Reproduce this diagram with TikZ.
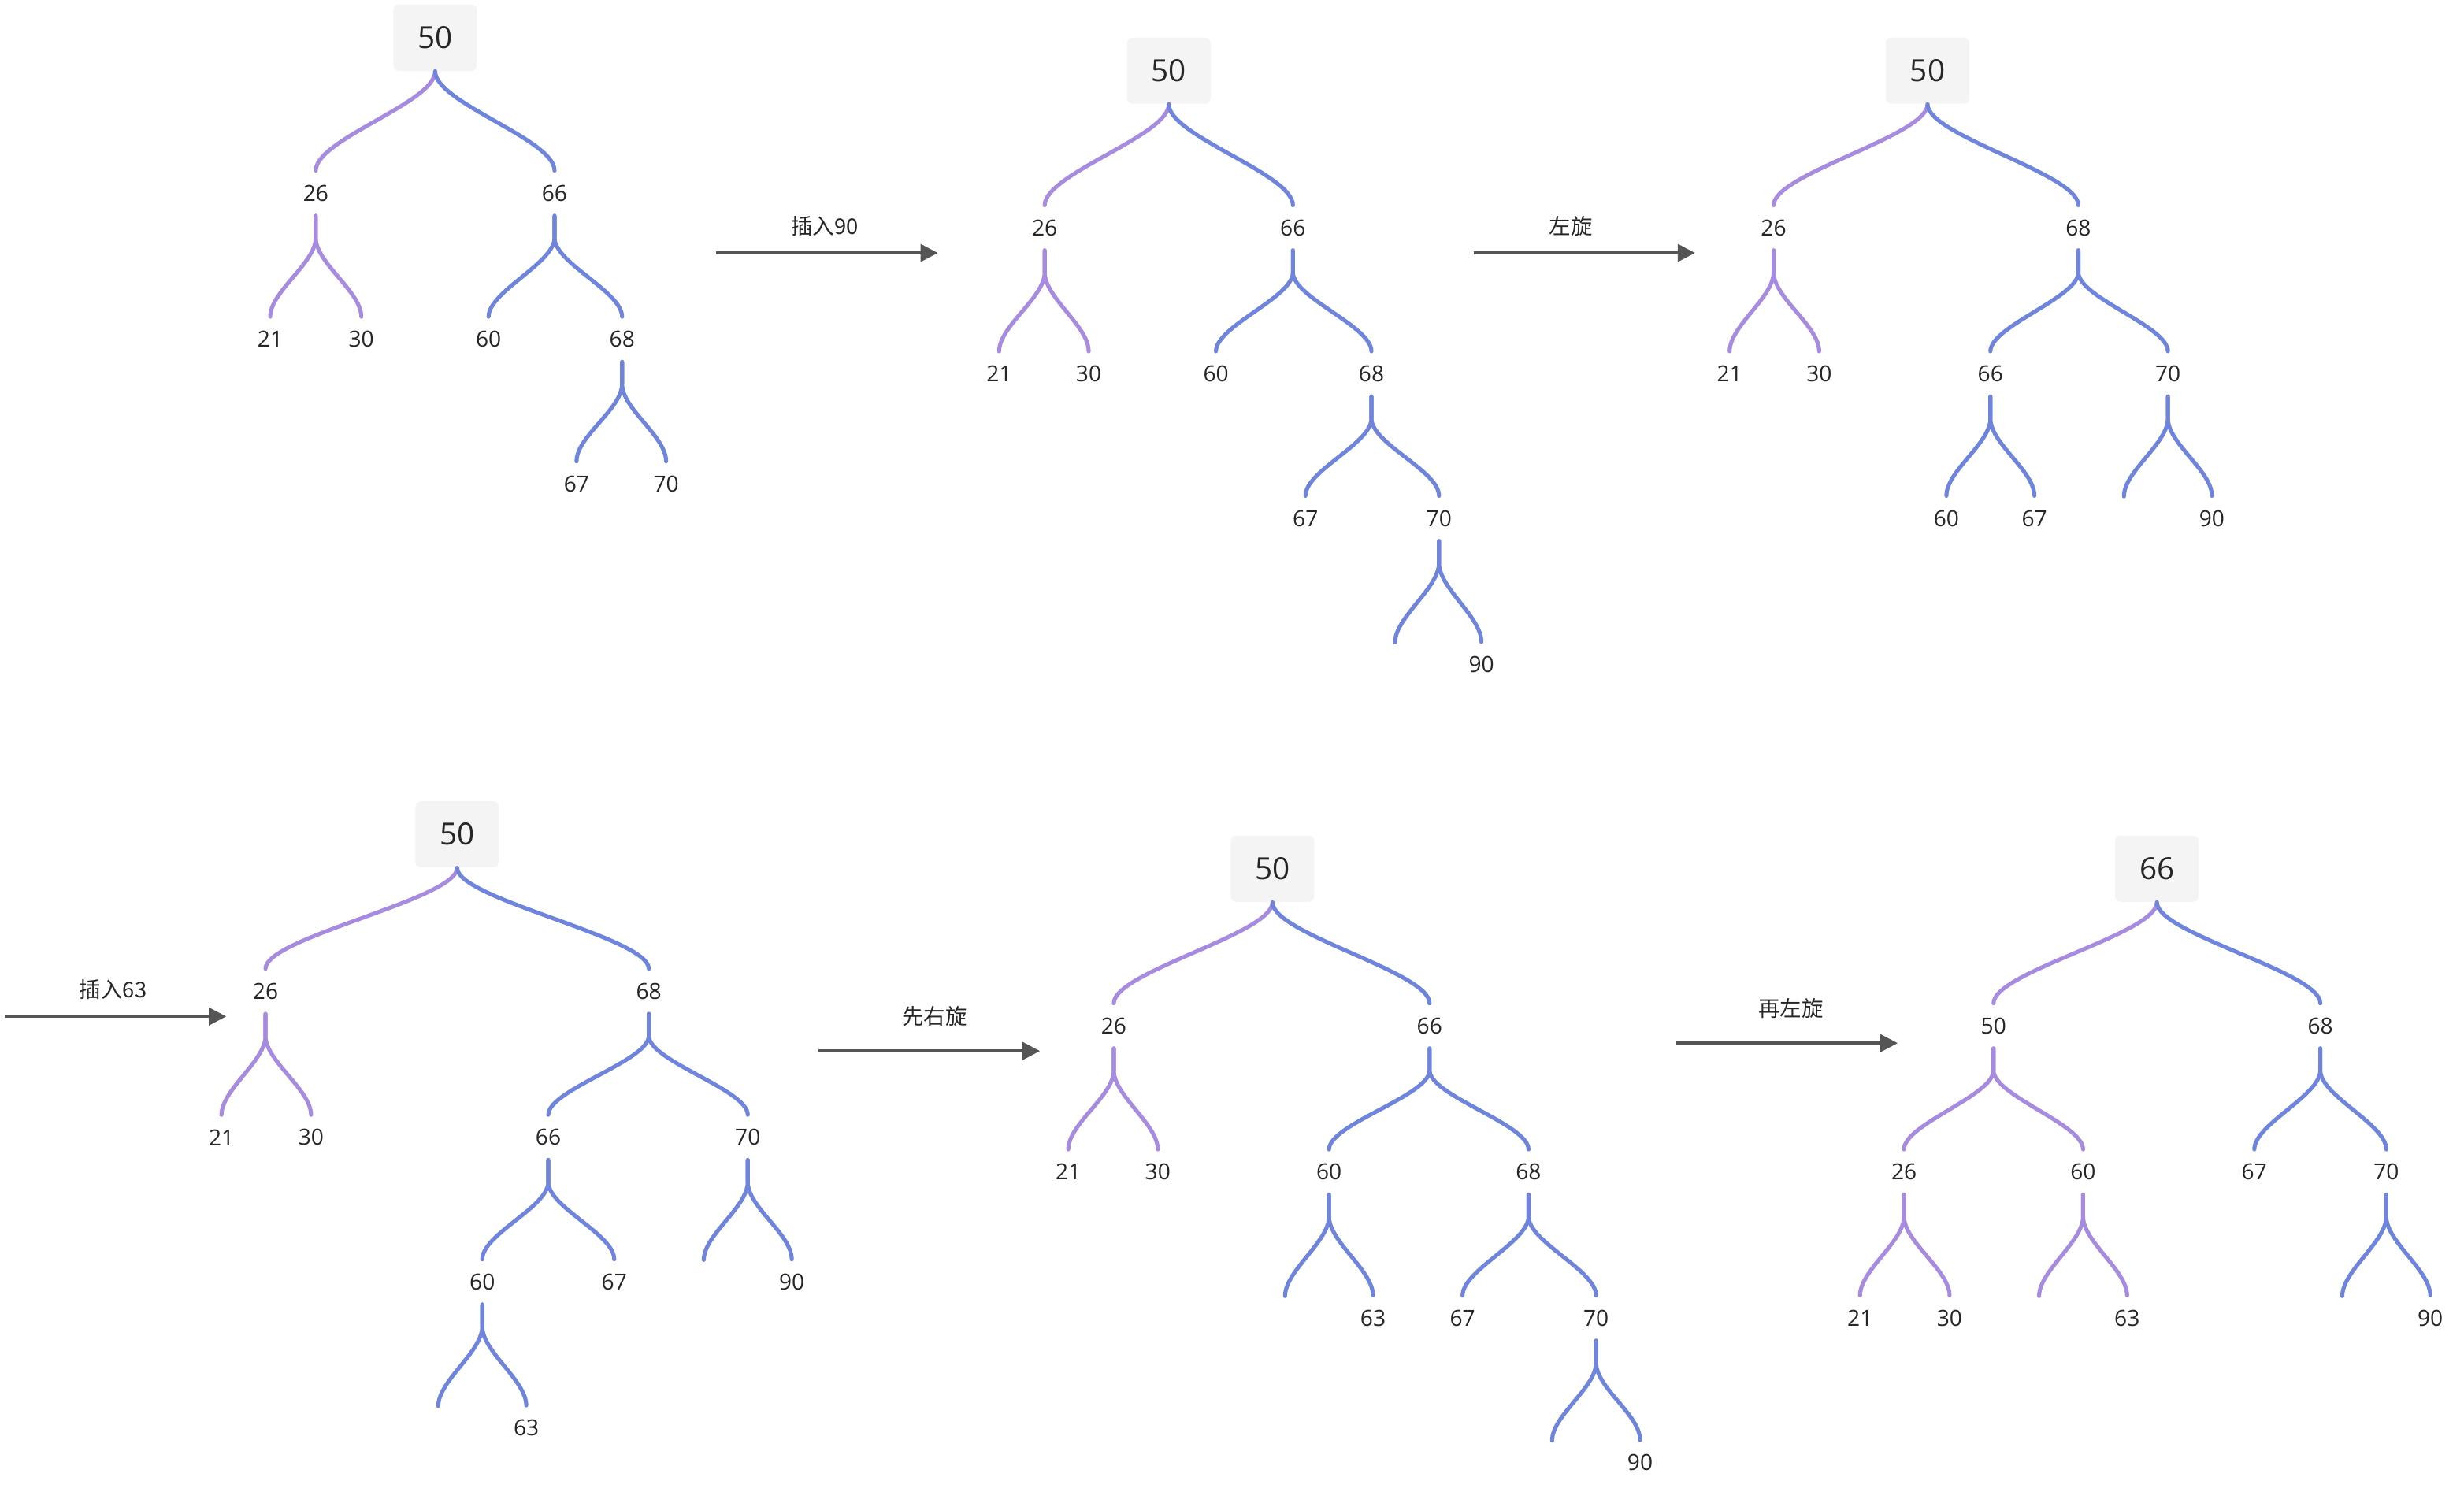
\documentclass[tikz,border=0pt]{standalone}
\usepackage{fontspec}
\setmainfont{Open Sans}
\newfontfamily\cjk{Noto Sans CJK SC}
\usetikzlibrary{arrows.meta}
\definecolor{pur}{HTML}{A78BE0}
\definecolor{blu}{HTML}{6F84DC}
\definecolor{txt}{HTML}{262626}
\definecolor{arr}{HTML}{555555}
\definecolor{boxf}{HTML}{F4F4F4}
\newcommand\stemedge[3]{\draw[#1] (#2.south) -- ++(0,14) .. controls +(0,16) and +(0,-16) .. (#3);}
\newcommand\rootedge[3]{\draw[#1] (#2.south) .. controls +(0,20) and +(0,-20) .. (#3);}
\begin{document}
\begin{tikzpicture}[x=0.01995cm,y=-0.01995cm,
  lbl/.style={inner sep=0pt,minimum height=0.559cm,font=\fontsize{8}{9}\selectfont,text=txt},
  rootbox/.style={fill=boxf,rounded corners=2pt,minimum width=1.06cm,minimum height=0.84cm,inner sep=0pt,font=\fontsize{11}{12}\selectfont,text=txt},
  pur/.style={draw=pur,line width=1.45pt,line cap=round},
  blu/.style={draw=blu,line width=1.45pt,line cap=round},
  flow/.style={draw=arr,line width=1.05pt,-{Triangle[length=0.22cm,width=0.22cm]}},
  flowlbl/.style={font=\cjk\fontsize{7.8}{9}\selectfont,text=txt,inner sep=0pt}]
\useasboundingbox (0cm,0cm) rectangle (31.28cm,-18.94cm);
% ---------- Tree A ----------
\node[rootbox] (a50) at (277,24) {50};
\node[lbl] (a26) at (201,123) {26};
\node[lbl] (a66) at (353,123) {66};
\node[lbl] (a21) at (172,216) {21};
\node[lbl] (a30) at (230,216) {30};
\node[lbl] (a60) at (311,216) {60};
\node[lbl] (a68) at (396,216) {68};
\node[lbl] (a67) at (367,308) {67};
\node[lbl] (a70) at (424,308) {70};
\rootedge{pur}{a50}{a26.north}
\rootedge{blu}{a50}{a66.north}
\stemedge{pur}{a26}{a21.north}
\stemedge{pur}{a26}{a30.north}
\stemedge{blu}{a66}{a60.north}
\stemedge{blu}{a66}{a68.north}
\stemedge{blu}{a68}{a67.north}
\stemedge{blu}{a68}{a70.north}
% ---------- Tree B ----------
\node[rootbox] (b50) at (744,45) {50};
\node[lbl] (b26) at (665,145) {26};
\node[lbl] (b66) at (823,145) {66};
\node[lbl] (b21) at (636,238) {21};
\node[lbl] (b30) at (693,238) {30};
\node[lbl] (b60) at (774,238) {60};
\node[lbl] (b68) at (873,238) {68};
\node[lbl] (b67) at (831,330) {67};
\node[lbl] (b70) at (916,330) {70};
\coordinate (bs) at (888,409);
\node[lbl] (b90) at (943,423) {90};
\rootedge{pur}{b50}{b26.north}
\rootedge{blu}{b50}{b66.north}
\stemedge{pur}{b26}{b21.north}
\stemedge{pur}{b26}{b30.north}
\stemedge{blu}{b66}{b60.north}
\stemedge{blu}{b66}{b68.north}
\stemedge{blu}{b68}{b67.north}
\stemedge{blu}{b68}{b70.north}
\stemedge{blu}{b70}{bs}
\stemedge{blu}{b70}{b90.north}
% ---------- Tree C ----------
\node[rootbox] (c50) at (1227,45) {50};
\node[lbl] (c26) at (1129,145) {26};
\node[lbl] (c68) at (1323,145) {68};
\node[lbl] (c21) at (1101,238) {21};
\node[lbl] (c30) at (1158,238) {30};
\node[lbl] (c66) at (1267,238) {66};
\node[lbl] (c70) at (1380,238) {70};
\node[lbl] (c60) at (1239,330) {60};
\node[lbl] (c67) at (1295,330) {67};
\coordinate (cs) at (1352,316);
\node[lbl] (c90) at (1408,330) {90};
\rootedge{pur}{c50}{c26.north}
\rootedge{blu}{c50}{c68.north}
\stemedge{pur}{c26}{c21.north}
\stemedge{pur}{c26}{c30.north}
\stemedge{blu}{c68}{c66.north}
\stemedge{blu}{c68}{c70.north}
\stemedge{blu}{c66}{c60.north}
\stemedge{blu}{c66}{c67.north}
\stemedge{blu}{c70}{cs}
\stemedge{blu}{c70}{c90.north}
% ---------- Tree D ----------
\node[rootbox] (d50) at (291,531) {50};
\node[lbl] (d26) at (169,631) {26};
\node[lbl] (d68) at (413,631) {68};
\node[lbl] (d21) at (141,724) {21};
\node[lbl] (d30) at (198,724) {30};
\node[lbl] (d66) at (349,724) {66};
\node[lbl] (d70) at (476,724) {70};
\node[lbl] (d60) at (307,816) {60};
\node[lbl] (d67) at (391,816) {67};
\coordinate (ds1) at (448,802);
\node[lbl] (d90) at (504,816) {90};
\coordinate (ds2) at (279,895);
\node[lbl] (d63) at (335,909) {63};
\rootedge{pur}{d50}{d26.north}
\rootedge{blu}{d50}{d68.north}
\stemedge{pur}{d26}{d21.north}
\stemedge{pur}{d26}{d30.north}
\stemedge{blu}{d68}{d66.north}
\stemedge{blu}{d68}{d70.north}
\stemedge{blu}{d66}{d60.north}
\stemedge{blu}{d66}{d67.north}
\stemedge{blu}{d70}{ds1}
\stemedge{blu}{d70}{d90.north}
\stemedge{blu}{d60}{ds2}
\stemedge{blu}{d60}{d63.north}
% ---------- Tree E ----------
\node[rootbox] (e50) at (810,553) {50};
\node[lbl] (e26) at (709,653) {26};
\node[lbl] (e66) at (910,653) {66};
\node[lbl] (e21) at (680,746) {21};
\node[lbl] (e30) at (737,746) {30};
\node[lbl] (e60) at (846,746) {60};
\node[lbl] (e68) at (973,746) {68};
\coordinate (es1) at (818,825);
\node[lbl] (e63) at (874,839) {63};
\node[lbl] (e67) at (931,839) {67};
\node[lbl] (e70) at (1016,839) {70};
\coordinate (es2) at (988,917);
\node[lbl] (e90) at (1044,931) {90};
\rootedge{pur}{e50}{e26.north}
\rootedge{blu}{e50}{e66.north}
\stemedge{pur}{e26}{e21.north}
\stemedge{pur}{e26}{e30.north}
\stemedge{blu}{e66}{e60.north}
\stemedge{blu}{e66}{e68.north}
\stemedge{blu}{e60}{es1}
\stemedge{blu}{e60}{e63.north}
\stemedge{blu}{e68}{e67.north}
\stemedge{blu}{e68}{e70.north}
\stemedge{blu}{e70}{es2}
\stemedge{blu}{e70}{e90.north}
% ---------- Tree F ----------
\node[rootbox] (f66) at (1373,553) {66};
\node[lbl] (f50) at (1269,653) {50};
\node[lbl] (f68) at (1477,653) {68};
\node[lbl] (f26) at (1212,746) {26};
\node[lbl] (f60) at (1326,746) {60};
\node[lbl] (f67) at (1435,746) {67};
\node[lbl] (f70) at (1519,746) {70};
\node[lbl] (f21) at (1184,839) {21};
\node[lbl] (f30) at (1241,839) {30};
\coordinate (fs1) at (1298,825);
\node[lbl] (f63) at (1354,839) {63};
\coordinate (fs2) at (1491,825);
\node[lbl] (f90) at (1547,839) {90};
\rootedge{pur}{f66}{f50.north}
\rootedge{blu}{f66}{f68.north}
\stemedge{pur}{f50}{f26.north}
\stemedge{pur}{f50}{f60.north}
\stemedge{pur}{f26}{f21.north}
\stemedge{pur}{f26}{f30.north}
\stemedge{pur}{f60}{fs1}
\stemedge{pur}{f60}{f63.north}
\stemedge{blu}{f68}{f67.north}
\stemedge{blu}{f68}{f70.north}
\stemedge{blu}{f70}{fs2}
\stemedge{blu}{f70}{f90.north}
% ---------- Flow arrows ----------
\coordinate (r1a) at (456,161); \coordinate (r1b) at (597,161);
\draw[flow] (r1a) -- (r1b);
\node[flowlbl] (t1) at (525,144) {插入90};
\coordinate (r2a) at (938,161); \coordinate (r2b) at (1079,161);
\draw[flow] (r2a) -- (r2b);
\node[flowlbl] (t2) at (1000,144) {左旋};
\coordinate (r3a) at (3,647); \coordinate (r3b) at (144,647);
\draw[flow] (r3a) -- (r3b);
\node[flowlbl] (t3) at (72,630) {插入63};
\coordinate (r4a) at (521,669); \coordinate (r4b) at (662,669);
\draw[flow] (r4a) -- (r4b);
\node[flowlbl] (t4) at (595,647) {先右旋};
\coordinate (r5a) at (1067,664); \coordinate (r5b) at (1208,664);
\draw[flow] (r5a) -- (r5b);
\node[flowlbl] (t5) at (1140,642) {再左旋};
\end{tikzpicture}
\end{document}
